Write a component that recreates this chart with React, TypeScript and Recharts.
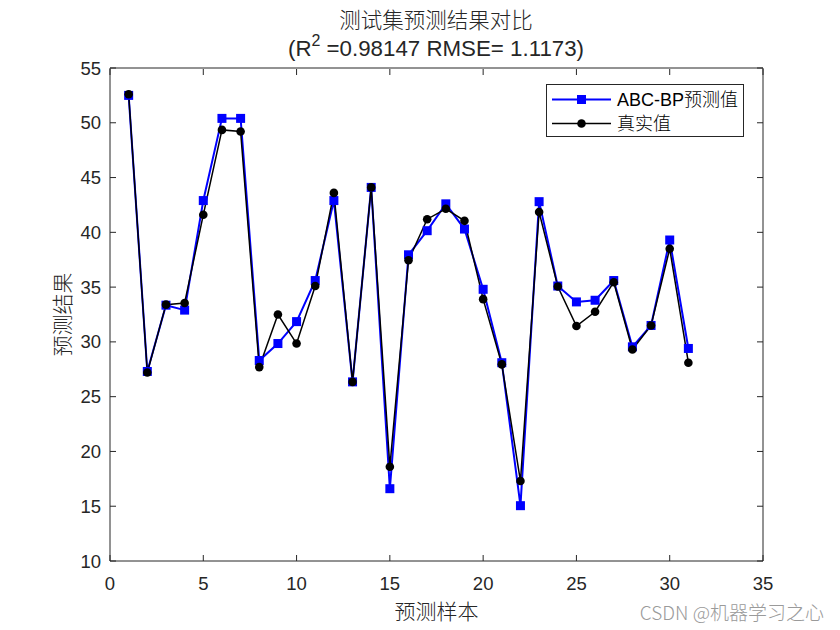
import { LineChart, Line, XAxis, YAxis } from "recharts";

// sample index on the x axis
const sampleIndex = [
  1, 2, 3, 4, 5, 6, 7, 8, 9, 10, 11, 12, 13, 14, 15, 16, 17, 18, 19, 20, 21,
  22, 23, 24, 25, 26, 27, 28, 29, 30, 31,
];

// ABC-BP predicted values (blue squares)
const predicted = [
  52.5, 27.3, 33.35, 32.9, 42.9, 50.4, 50.4, 28.3, 29.85, 31.85, 35.6, 42.9,
  26.35, 44.1, 16.6, 37.95, 40.15, 42.6, 40.3, 34.8, 28.1, 15.05, 42.8, 35.1,
  33.65, 33.8, 35.6, 29.55, 31.5, 39.3, 29.4,
];

// true values (black circles)
const actual = [
  52.6, 27.2, 33.4, 33.55, 41.6, 49.35, 49.2, 27.7, 32.5, 29.85, 35.1, 43.6,
  26.35, 44.1, 18.6, 37.45, 41.2, 42.15, 41.05, 33.9, 27.95, 17.3, 41.85, 35.05,
  31.45, 32.75, 35.45, 29.3, 31.5, 38.5, 28.1,
];

const xTicks = [0, 5, 10, 15, 20, 25, 30, 35];
const yTicks = [10, 15, 20, 25, 30, 35, 40, 45, 50, 55];

const chartData = sampleIndex.map((s, i) => ({
  sample: s,
  predicted: predicted[i],
  actual: actual[i],
}));

const AXIS = "#262626";
const LATIN = '"Liberation Sans", Arial, "Noto Sans CJK SC", sans-serif';
const CJK = '"Noto Sans CJK SC", sans-serif';
const TICK_LEN = 6;

const BottomTick = ({ x, y, payload }: any) => (
  <g>
    <line x1={x} x2={x} y1={y} y2={y - TICK_LEN} stroke={AXIS} />
    <text x={x} y={y + 29} textAnchor="middle" fontSize={18.5} fill={AXIS} fontFamily={LATIN}>
      {payload.value}
    </text>
  </g>
);

// top axis: area is 1px tall, axis line sits at its bottom edge
const TopTick = ({ x, y }: any) => (
  <line x1={x} x2={x} y1={y + 1} y2={y + 1 + TICK_LEN} stroke={AXIS} />
);

const LeftTick = ({ x, y, payload }: any) => (
  <g>
    <line x1={x} x2={x + TICK_LEN} y1={y} y2={y} stroke={AXIS} />
    <text x={x - 9} y={y + 6.5} textAnchor="end" fontSize={18.5} fill={AXIS} fontFamily={LATIN}>
      {payload.value}
    </text>
  </g>
);

const RightTick = ({ x, y }: any) => (
  <line x1={x} x2={x - TICK_LEN} y1={y} y2={y} stroke={AXIS} />
);

const SquareDot = ({ cx, cy, index }: any) =>
  cx == null || cy == null ? null : (
    <rect key={index} x={cx - 4.5} y={cy - 4.5} width={9} height={9} fill="#0000ff" />
  );

const YLabel = ({ viewBox }: any) => {
  const cx = viewBox.x + 1;
  const cy = viewBox.y + viewBox.height / 2;
  return (
    <text
      x={cx}
      y={cy}
      transform={`rotate(-90 ${cx} ${cy})`}
      textAnchor="middle"
      dominantBaseline="central"
      fontSize={21}
      fontWeight={300}
      fill={AXIS}
      fontFamily={CJK}
    >
      预测结果
    </text>
  );
};

const XLabel = ({ viewBox }: any) => (
  <text
    x={viewBox.x + viewBox.width / 2}
    y={viewBox.y + 58}
    textAnchor="middle"
    fontSize={21}
    fontWeight={300}
    fill={AXIS}
    fontFamily={CJK}
  >
    预测样本
  </text>
);

export default function App() {
  return (
    <div style={{ position: "absolute", left: 0, top: 0, width: 840, height: 630, background: "#fff" }}>
      <LineChart
        width={840}
        height={630}
        data={chartData}
        margin={{ top: 67, right: 76, bottom: 29, left: 60 }}
      >
        <XAxis
          xAxisId="bottom"
          dataKey="sample"
          type="number"
          domain={[0, 35]}
          ticks={xTicks}
          interval={0}
          height={40}
          tickSize={0}
          tickMargin={0}
          tickLine={false}
          axisLine={{ stroke: AXIS }}
          tick={<BottomTick />}
          label={<XLabel />}
        />
        <XAxis
          xAxisId="top"
          orientation="top"
          dataKey="sample"
          type="number"
          domain={[0, 35]}
          ticks={xTicks}
          interval={0}
          height={1}
          tickSize={0}
          tickMargin={0}
          tickLine={false}
          allowDataOverflow
          axisLine={{ stroke: AXIS }}
          tick={<TopTick />}
        />
        <YAxis
          yAxisId="left"
          type="number"
          domain={[10, 55]}
          ticks={yTicks}
          interval={0}
          width={50}
          tickSize={0}
          tickMargin={0}
          tickLine={false}
          axisLine={{ stroke: AXIS }}
          tick={<LeftTick />}
          label={<YLabel />}
        />
        <YAxis
          yAxisId="right"
          orientation="right"
          type="number"
          domain={[10, 55]}
          ticks={yTicks}
          interval={0}
          width={1}
          tickSize={0}
          tickMargin={0}
          tickLine={false}
          allowDataOverflow
          axisLine={{ stroke: AXIS }}
          tick={<RightTick />}
        />
        <Line
          xAxisId="bottom"
          yAxisId="left"
          dataKey="predicted"
          type="linear"
          stroke="#0000ff"
          strokeWidth={2}
          dot={<SquareDot />}
          activeDot={false}
          isAnimationActive={false}
        />
        <Line
          xAxisId="bottom"
          yAxisId="left"
          dataKey="actual"
          type="linear"
          stroke="#000000"
          strokeWidth={1.5}
          dot={{ r: 4.3, fill: "#000", stroke: "#000", strokeWidth: 0 }}
          activeDot={false}
          isAnimationActive={false}
        />
      </LineChart>

      {/* title */}
      <div
        style={{
          position: "absolute",
          left: 236,
          width: 400,
          top: 5,
          textAlign: "center",
          fontFamily: CJK,
          fontWeight: 300,
          fontSize: 21.5,
          lineHeight: "28px",
          color: AXIS,
        }}
      >
        测试集预测结果对比
      </div>
      <div
        style={{
          position: "absolute",
          left: 236,
          width: 400,
          top: 35,
          textAlign: "center",
          fontFamily: LATIN,
          fontSize: 22.3,
          lineHeight: "28px",
          color: AXIS,
          whiteSpace: "nowrap",
        }}
      >
        (R<sup style={{ fontSize: 16, lineHeight: 0, verticalAlign: 10 }}>2</sup> =0.98147 RMSE= 1.1173)
      </div>

      {/* legend */}
      <svg style={{ position: "absolute", left: 546, top: 84 }} width={198} height={53}>
        <rect x={0.5} y={0.5} width={197} height={52} fill="#fff" stroke={AXIS} />
        <line x1={6} x2={65} y1={15.5} y2={15.5} stroke="#0000ff" strokeWidth={2} />
        <rect x={31} y={11} width={9} height={9} fill="#0000ff" />
        <text x={71} y={22} fontSize={18} fill="#000" fontFamily={LATIN}>
          ABC-BP
          <tspan fontFamily={CJK} fontWeight={300}>预测值</tspan>
        </text>
        <line x1={6} x2={65} y1={39.5} y2={39.5} stroke="#000" strokeWidth={1.5} />
        <circle cx={35.5} cy={39.5} r={4.3} fill="#000" />
        <text x={71} y={46} fontSize={18} fill="#000" fontFamily={CJK} fontWeight={300}>
          真实值
        </text>
      </svg>

      {/* watermark */}
      <div
        style={{
          position: "absolute",
          right: 16,
          top: 598,
          fontFamily: CJK,
          fontWeight: 300,
          fontSize: 19,
          color: "#9a9a9a",
          whiteSpace: "nowrap",
          textShadow: "0 0 2px #fff",
        }}
      >
        CSDN @机器学习之心
      </div>
    </div>
  );
}
